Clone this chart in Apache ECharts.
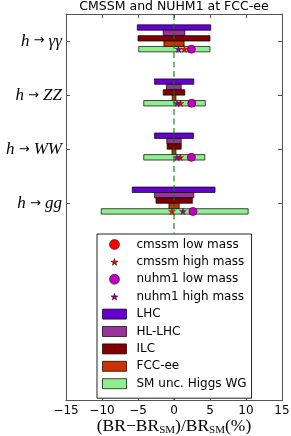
<!DOCTYPE html>
<html>
<head>
<meta charset="utf-8">
<script src="https://cdn.jsdelivr.net/npm/echarts@6/dist/echarts.min.js"></script>
<style>html,body{margin:0;padding:0;background:#fff;}#c{width:291px;height:436px;}</style>
</head>
<body>
<div id="c"></div>
<script>
// ---- data ----
const catLabels = ['γγ', 'ZZ', 'WW', 'gg'];
const xTicks = [-15, -10, -5, 0, 5, 10, 15];
// [low, high] in %
const lhc   = [[-5.1, 5.1], [-2.7, 2.75], [-2.7, 2.7], [-5.8, 5.7]];
const hllhc = [[-1.5, 1.5], [-1.05, 1.0], [-1.0, 1.0], [-2.7, 2.75]];
const ilc   = [[-5.0, 5.0], [-1.5, 1.5], [-0.95, 1.0], [-2.5, 2.55]];
const fccee = [[-1.4, 1.4], [-0.25, 0.27], [-0.28, 0.28], [-0.7, 0.72]];
const smunc = [[-4.9, 5.0], [-4.2, 4.35], [-4.2, 4.28], [-10.1, 10.3]];
const cmssmLow  = [2.4, 2.45, 2.4, 2.6];
const cmssmHigh = [1.45, 0.9, 0.87, -0.28];
const nuhm1Low  = [2.42, 2.48, 2.44, 2.67];
const nuhm1High = [0.63, 0.42, 0.42, 1.25];

const STAR = 'path://M0,-1L0.2245,-0.309L0.951,-0.309L0.363,0.118L0.588,0.809L0,0.382L-0.588,0.809L-0.363,0.118L-0.951,-0.309L-0.2245,-0.309Z';
const STAR_LEG = 'path://M-1.35,-1.45L-1.35,-1.45M1.35,1.25L1.35,1.25M0,-1L0.2245,-0.309L0.951,-0.309L0.363,0.118L0.588,0.809L0,0.382L-0.588,0.809L-0.363,0.118L-0.951,-0.309L-0.2245,-0.309Z';

const chart = echarts.init(document.getElementById('c'), null, {renderer: 'canvas'});
const EDGE = 'rgba(0,0,0,0.7)';

function barSeries(name, arr, color, offset) {
  return {
    name: name,
    type: 'custom',
    z: 2,
    itemStyle: {color: color, borderColor: EDGE, borderWidth: 1},
    encode: {x: [0, 1], y: 2},
    data: arr.map((r, i) => [r[0], r[1], i]),
    renderItem: function (params, api) {
      const y = api.value(2) + offset;
      const p1 = api.coord([api.value(0), y - 0.05]);
      const p2 = api.coord([api.value(1), y + 0.05]);
      return {
        type: 'rect',
        shape: {x: p1[0], y: Math.min(p1[1], p2[1]), width: p2[0] - p1[0], height: Math.abs(p2[1] - p1[1])},
        style: api.style()
      };
    }
  };
}
function markSeries(name, arr, color, symbol, size) {
  return {
    name: name,
    type: 'scatter',
    z: 5,
    symbol: symbol,
    symbolSize: size,
    symbolKeepAspect: true,
    itemStyle: {color: color, borderColor: 'rgba(0,0,0,0.5)', borderWidth: 0.5, opacity: 1},
    data: arr.map((v, i) => [v, i + 0.15])
  };
}

const rowName = i => '{i|h}{a| → }{i|' + catLabels[i] + '}';

const option = {
  animation: false,
  backgroundColor: '#fff',
  title: {
    text: 'CMSSM and NUHM1 at FCC-ee',
    left: 174, top: 0, textAlign: 'center', padding: 0,
    textStyle: {fontFamily: 'DejaVu Sans', fontSize: 12.5, fontWeight: 'normal', color: '#000', lineHeight: 13}
  },
  grid: {left: 66, right: 9, top: 14, bottom: 35.3, outerBoundsMode: 'none', containLabel: false},
  legend: {
    orient: 'vertical',
    left: 97, top: 234,
    itemWidth: 24, itemHeight: 10, itemGap: 5.4,
    padding: [4.5, 5, 8.5, 5],
    backgroundColor: '#fff',
    borderColor: '#222', borderWidth: 1,
    textStyle: {fontFamily: 'DejaVu Sans', fontSize: 12, lineHeight: 12, color: '#000', padding: [0, 0, 0, 5]},
    itemStyle: {borderWidth: 1, borderColor: 'inherit'},
    z: 10,
    data: [
      {name: 'cmssm low mass', icon: 'circle'},
      {name: 'cmssm high mass', icon: STAR_LEG},
      {name: 'nuhm1 low mass', icon: 'circle'},
      {name: 'nuhm1 high mass', icon: STAR_LEG},
      {name: 'LHC', icon: 'rect'},
      {name: 'HL-LHC', icon: 'rect'},
      {name: 'ILC', icon: 'rect'},
      {name: 'FCC-ee', icon: 'rect'},
      {name: 'SM unc. Higgs WG', icon: 'rect'}
    ],
    selectedMode: false
  },
  xAxis: [{
    type: 'value', min: -15, max: 15, interval: 5, position: 'bottom',
    axisLine: {show: true, onZero: false, lineStyle: {color: '#555', width: 1}},
    axisTick: {show: true, inside: true, length: 4, lineStyle: {color: '#555'}},
    splitLine: {show: false},
    axisLabel: {
      margin: 4, color: '#000', fontFamily: 'DejaVu Sans', fontSize: 12,
      customValues: xTicks,
      formatter: v => (v < 0 ? '\u2212' + (-v) : String(v))
    },
    name: '{p|(BR\u2212BR}{s|SM}{p|)/BR}{s|SM}{p|(%)}',
    nameLocation: 'middle', nameGap: 16, nameMoveOverlap: false,
    nameTextStyle: {
      rich: {
        p: {fontFamily: 'Liberation Serif', fontSize: 17.5, color: '#000'},
        s: {fontFamily: 'Liberation Serif', fontSize: 11, color: '#000', verticalAlign: 'bottom', padding: [8, 0, 0, 0]}
      }
    }
  }, {
    type: 'value', min: -15, max: 15, interval: 5, position: 'top',
    axisLine: {show: true, onZero: false, lineStyle: {color: '#555', width: 1}},
    axisTick: {show: true, inside: true, length: 4, lineStyle: {color: '#555'}},
    splitLine: {show: false},
    axisLabel: {show: false}
  }],
  yAxis: [{
    type: 'value', inverse: true, min: -0.5, max: 6.65, position: 'left',
    axisLine: {show: true, onZero: false, lineStyle: {color: '#555', width: 1}},
    axisTick: {show: true, inside: true, length: 4, customValues: [0, 1, 2, 3], lineStyle: {color: '#555'}},
    splitLine: {show: false},
    axisLabel: {
      margin: 4, customValues: [0, 1, 2, 3],
      formatter: v => rowName(Math.round(v)),
      rich: {
        i: {fontFamily: 'Liberation Serif', fontStyle: 'italic', fontSize: 17, color: '#000'},
        a: {fontFamily: 'DejaVu Sans', fontSize: 13, color: '#000'}
      }
    }
  }, {
    type: 'value', inverse: true, min: -0.5, max: 6.65, position: 'right',
    axisLine: {show: true, onZero: false, lineStyle: {color: '#555', width: 1}},
    axisTick: {show: true, inside: true, length: 4, customValues: [0, 1, 2, 3], lineStyle: {color: '#555'}},
    splitLine: {show: false},
    axisLabel: {show: false}
  }],
  series: [
    barSeries('LHC', lhc, '#6600cc', -0.25),
    barSeries('HL-LHC', hllhc, '#993399', -0.15),
    barSeries('ILC', ilc, '#800000', -0.05),
    barSeries('FCC-ee', fccee, '#cc3300', 0.05),
    barSeries('SM unc. Higgs WG', smunc, '#90ee90', 0.15),
    {
      name: 'zero', type: 'line', z: 4, data: [], silent: true,
      markLine: {
        silent: true, symbol: 'none', label: {show: false},
        lineStyle: {color: 'rgba(0,128,0,0.55)', width: 2, type: [6, 3.5]},
        data: [{xAxis: 0}]
      }
    },
    markSeries('cmssm low mass', cmssmLow, '#ff0000', 'circle', 8),
    markSeries('cmssm high mass', cmssmHigh, '#ff0000', STAR, 7),
    markSeries('nuhm1 low mass', nuhm1Low, '#bf00bf', 'circle', 8),
    markSeries('nuhm1 high mass', nuhm1High, '#990099', STAR, 7)
  ]
};
chart.setOption(option);
</script>
</body>
</html>
